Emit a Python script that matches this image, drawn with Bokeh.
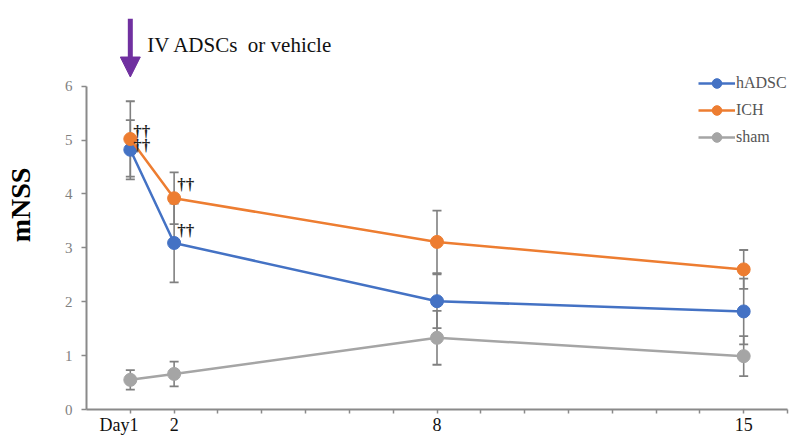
from bokeh.plotting import figure
from bokeh.models import (Range1d, FixedTicker, Arrow, NormalHead, Label, Legend,
                          LegendItem, ColumnDataSource)
from bokeh.core.properties import value
from bokeh.embed import file_html
from bokeh.resources import INLINE

# ---- data ----
days = [1, 2, 8, 15]
hadsc = [4.82, 3.09, 2.01, 1.82]
hadsc_err = [0.55, 0.73, 0.50, 0.61]
ich = [5.02, 3.92, 3.11, 2.60]
ich_err = [0.70, 0.48, 0.58, 0.36]
sham = [0.55, 0.66, 1.33, 0.99]
sham_err = [0.18, 0.23, 0.50, 0.37]
series_names = ["hADSC", "ICH", "sham"]
x_ticks = list(range(1, 17))
x_tick_labels = {1: "Day1\u00a0\u00a0\u00a0\u00a0\u00a0", 2: "2", 8: "8", 15: "15"}
y_ticks = [0, 1, 2, 3, 4, 5, 6]
# significance marks: (series, day index)
dagger_series = ["ICH", "hADSC", "ICH", "hADSC"]
dagger_idx = [0, 0, 1, 1]

colors = {"hADSC": "#4472C4", "ICH": "#ED7D31", "sham": "#A5A5A5"}
vals = {"hADSC": hadsc, "ICH": ich, "sham": sham}
errs = {"hADSC": hadsc_err, "ICH": ich_err, "sham": sham_err}
SERIF = "Liberation Serif"

p = figure(width=792, height=437, output_backend="svg", toolbar_location=None,
           x_range=Range1d(0, 16), y_range=Range1d(0, 7.59),
           min_border_left=86, min_border_right=5, min_border_top=0, min_border_bottom=10)
p.outline_line_color = None
p.grid.grid_line_color = None
p.background_fill_color = "white"
p.border_fill_color = "white"

# axes
ax_col = "#8a8a8a"
p.xaxis.ticker = FixedTicker(ticks=x_ticks)
p.xaxis.major_label_overrides = {t: x_tick_labels.get(t, "") for t in x_ticks}
p.xaxis.minor_tick_line_color = None
p.xaxis.major_tick_in = 0
p.xaxis.major_tick_out = 4
p.xaxis.major_label_standoff = 1
p.xaxis.axis_line_color = ax_col
p.xaxis.axis_line_width = 2
p.xaxis.major_tick_line_color = ax_col
p.xaxis.major_tick_line_width = 1.5
p.xaxis.major_label_text_font = SERIF
p.xaxis.major_label_text_font_size = "18px"
p.xaxis.major_label_text_color = "#111111"

p.yaxis.ticker = FixedTicker(ticks=y_ticks)
p.yaxis.bounds = (0, 6)
p.yaxis.minor_tick_line_color = None
p.yaxis.major_tick_in = 0
p.yaxis.major_tick_out = 5
p.yaxis.major_label_standoff = 9
p.yaxis.axis_line_color = ax_col
p.yaxis.axis_line_width = 2
p.yaxis.major_tick_line_color = ax_col
p.yaxis.major_tick_line_width = 1.5
p.yaxis.major_label_text_font = SERIF
p.yaxis.major_label_text_font_size = "15px"
p.yaxis.major_label_text_color = "#7f7f7f"
p.yaxis.axis_label = "mNSS"
p.yaxis.axis_label_text_font = SERIF
p.yaxis.axis_label_text_font_size = "28px"
p.yaxis.axis_label_text_font_style = "bold"
p.yaxis.axis_label_text_color = "#000000"
p.yaxis.axis_label_standoff = 26

# error bars
err_col = "#808080"
for name in series_names:
    lo = [v - e for v, e in zip(vals[name], errs[name])]
    hi = [v + e for v, e in zip(vals[name], errs[name])]
    p.segment(x0=days, y0=lo, x1=days, y1=hi, line_color=err_col, line_width=1.6)
    p.scatter(x=days + days, y=lo + hi, marker="dash", size=9, line_color=err_col, line_width=1.8)

items = []
for name in series_names:
    r1 = p.line(days, vals[name], line_color=colors[name], line_width=2.5)
    r2 = p.scatter(days, vals[name], marker="circle", size=13, fill_color=colors[name],
                   line_color=colors[name])
    items.append(LegendItem(label=name, renderers=[r1, r2]))

legend = Legend(items=items, location=(608, 256), label_text_font=SERIF,
                label_text_font_size="16px", label_text_color="#555555",
                glyph_width=37, glyph_height=24, label_standoff=1, spacing=3,
                padding=4, background_fill_alpha=0, border_line_alpha=0)
p.add_layout(legend)

# significance daggers
dx = [days[i] for i in dagger_idx]
dy = [vals[s][i] for s, i in zip(dagger_series, dagger_idx)]
src = ColumnDataSource(dict(x=dx, y=dy, xo=[3, 3, 3, 3], yo=[-7, -4, -14, -12]))
p.text(x="x", y="y", x_offset="xo", y_offset="yo", text=value("††"), source=src,
       text_font=value(SERIF), text_font_size="17px", text_font_style="bold",
       text_color="#222222", text_baseline="middle", text_align="left")

# intervention arrow
purple = "#7030A0"
p.add_layout(Arrow(x_start=days[0], y_start=7.25, x_end=days[0], y_end=6.17,
                   line_color=purple, line_width=5,
                   end=NormalHead(size=20, fill_color=purple, line_color=purple, line_width=1)))
p.add_layout(Label(x=days[0], y=6.76, x_offset=17, text="IV ADSCs\u00a0 or vehicle",
                   text_font=SERIF, text_font_size="21px", text_color="#111111",
                   text_baseline="middle"))

open("out.html", "w").write(file_html(p, INLINE))
